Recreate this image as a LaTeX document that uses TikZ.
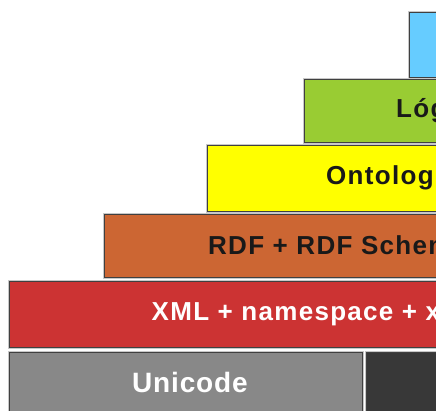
\documentclass[tikz,border=0pt]{standalone}
\usepackage{fontspec}
\setmainfont{Liberation Sans}
\usetikzlibrary{positioning}
\definecolor{provablue}{HTML}{66CCFF}
\definecolor{logicgreen}{HTML}{99CC33}
\definecolor{ontoyellow}{HTML}{FFFF00}
\definecolor{rdforange}{HTML}{CC6633}
\definecolor{xmlred}{HTML}{CC3333}
\definecolor{unigray}{HTML}{888888}
\definecolor{uridark}{HTML}{383838}
\definecolor{boxline}{HTML}{404040}
\definecolor{halo}{HTML}{C8C8C8}
\tikzset{
  layer/.style={draw=boxline, line width=1pt, preaction={draw=halo, line width=3pt}},
  layertext/.style={font=\bfseries\fontsize{26}{26}\selectfont\addfontfeatures{LetterSpace=5},
    anchor=base west, inner sep=0pt}
}

\begin{document}
\begin{tikzpicture}[x=1pt,y=-1pt]
\useasboundingbox (0,0) rectangle (436,410);
\clip (0,0) rectangle (436,410);
\draw[layer, fill=provablue] (409,12) rectangle (450,77);
\draw[layer, fill=logicgreen] (304.5,79.5) rectangle (450,142.5);
\draw[layer, fill=ontoyellow] (207,145.5) rectangle (450,211.5);
\draw[layer, fill=rdforange] (104.5,214) rectangle (450,277.5);
\draw[layer, fill=xmlred] (9.5,281.5) rectangle (450,347.5);
\draw[layer, fill=unigray] (9.5,352) rectangle (362,420);
\draw[layer, fill=uridark] (366,352) rectangle (450,420);
\node[layertext, text=black!90] (logica) at (396,117.5) {Lógica};
\node[layertext, text=black!90] (ontologia) at (326,184.5) {Ontologia};
\node[layertext, text=black!90] (rdf) at (208,254.5) {RDF + RDF Schema};
\node[layertext, text=white] (xml) at (151.5,320.5) {XML + namespace + xmlschema};
\node[layertext, text=white,
  font=\bfseries\fontsize{28}{28}\selectfont\addfontfeatures{LetterSpace=3}] (unicode) at (132,392.5) {Unicode};
\end{tikzpicture}
\end{document}
